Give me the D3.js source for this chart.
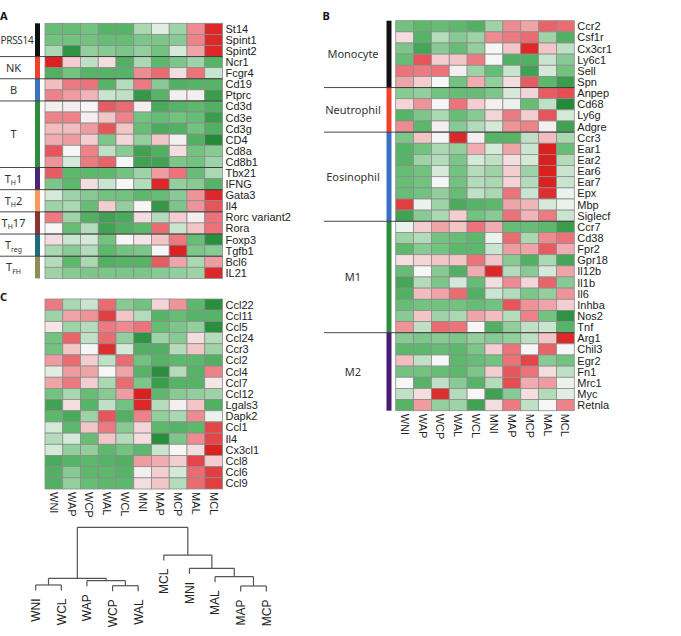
<!DOCTYPE html>
<html>
<head>
<meta charset="utf-8">
<title>Expression heatmaps</title>
<script src="https://d3js.org/d3.v7.min.js"></script>
<style>
  body { margin: 0; background: #fff; }
  .gene { font-family: "Liberation Sans", Arial, sans-serif; font-size: 11px; fill: #222; }
  .col { font-family: "Liberation Sans", Arial, sans-serif; font-size: 11px; fill: #222; }
  .leaf { font-family: "Liberation Sans", Arial, sans-serif; font-size: 12px; fill: #222; }
  .grp { font-family: "Noto Sans", sans-serif; font-size: 11px; fill: #333; text-anchor: middle; }
  .panel { font-family: "Noto Sans", sans-serif; font-size: 11px; font-weight: bold; fill: #111; }
  .cell { stroke: #8c8c8c; stroke-width: 0.8; }
  .sep { stroke: #333; stroke-width: 0.9; }
  .dend { stroke: #555; stroke-width: 1.2; fill: none; }
</style>
</head>
<body>
<svg width="681" height="636"></svg>
<script>
// columns shared by all three heatmaps
var cols = ["WNI", "WAP", "WCP", "WAL", "WCL", "MNI", "MAP", "MCP", "MAL", "MCL"];

// ---- panel A ----
var genesA = ["St14", "Spint1", "Spint2", "Ncr1", "Fcgr4", "Cd19", "Ptprc", "Cd3d", "Cd3e", "Cd3g",
    "CD4", "Cd8a", "Cd8b1", "Tbx21", "IFNG", "Gata3", "Il4", "Rorc variant2", "Rora", "Foxp3",
    "Tgfb1", "Bcl6", "IL21"];
var groupNamesA = ["PRSS14", "NK", "B", "T", "T_H1", "T_H2", "T_H17", "T_reg", "T_FH"];
var groupSizesA = [3, 2, 2, 6, 2, 2, 2, 2, 2];
var valuesA = [
    [-1.3, -1.3, -1.2, -1.5, -1.5, -0.7, -0.2, -0.8, 1.3, 2.6],
    [-1.2, -1.2, -1.2, -1.3, -1.3, -1.1, -1.1, -1.0, 1.4, 2.6],
    [-0.7, -2.2, -0.9, -1.0, -1.1, -0.9, -1.2, -0.3, 1.0, 2.6],
    [2.7, 0.5, -0.5, 0.3, -1.6, -0.7, -1.4, -1.1, -0.8, -1.5],
    [-1.6, -1.2, -1.5, -1.5, -1.5, 1.3, 1.7, 0.3, 1.6, -0.4],
    [0.7, 1.5, 1.6, -1.5, -0.6, 1.5, -1.0, -1.6, -1.5, -1.5],
    [1.4, 1.1, 0.8, -0.4, -0.5, -2.1, -1.5, 0.1, 0.1, -2.0],
    [0.1, 0.1, 0.0, 1.9, 1.7, 0.1, -1.7, -1.5, -1.4, -1.6],
    [1.4, 1.4, 0.1, 0.6, 1.4, -1.2, -1.3, -1.2, -1.3, -2.0],
    [0.7, 0.7, 1.1, 2.0, 0.6, -1.3, -1.7, -1.6, -1.2, -1.6],
    [0.9, 1.1, 0.5, -1.1, 0.4, -0.9, 0.6, 0.1, -1.6, -2.4],
    [2.0, 0.0, 1.4, -0.5, -1.0, -1.9, -1.6, 0.3, -1.2, -1.0],
    [1.2, -0.3, 1.5, 1.8, 0.0, -1.9, -1.9, -1.1, -1.2, -0.8],
    [1.9, -1.4, -1.4, -1.4, -1.2, -0.8, 1.1, 1.6, -1.3, -0.7],
    [-1.1, -1.4, 0.3, -0.4, 0.0, -0.6, 2.6, -0.9, -1.0, -1.5],
    [-0.3, -0.8, -1.0, -1.2, -1.2, -1.4, -1.3, -1.0, 1.2, 2.6],
    [-0.8, -0.7, -1.3, 0.5, -0.9, 0.0, -2.1, -1.1, 1.2, 2.0],
    [1.5, -0.8, -1.6, -1.9, -1.7, 0.3, -0.6, 0.5, 0.1, 1.6],
    [0.0, -1.3, -0.6, -1.9, -1.6, -1.4, 1.7, -0.4, 0.6, 1.6],
    [0.3, -0.4, -0.3, -1.2, 0.0, 0.2, 0.6, 1.5, -1.3, -2.3],
    [-0.7, -1.0, -0.6, -1.4, -1.2, -1.1, 0.0, 2.7, -1.1, -1.0],
    [-0.6, -1.4, -0.7, -1.6, -1.5, -1.5, 1.9, 1.0, -0.7, 1.1],
    [-0.8, -1.0, -1.1, -1.1, -1.1, -1.1, -1.0, -0.9, -0.8, 2.6]
];

// ---- panel B ----
var genesB = ["Ccr2", "Csf1r", "Cx3cr1", "Ly6c1", "Sell", "Spn", "Anpep", "Cd68", "Ly6g", "Adgre",
    "Ccr3", "Ear1", "Ear2", "Ear6", "Ear7", "Epx", "Mbp", "Siglecf", "Ccr7", "Cd38", "Fpr2",
    "Gpr18", "Il12b", "Il1b", "Il6", "Inhba", "Nos2", "Tnf", "Arg1", "Chil3", "Egr2", "Fn1",
    "Mrc1", "Myc", "Retnla"];
var groupNamesB = ["Monocyte", "Neutrophil", "Eosinophil", "M1", "M2"];
var groupSizesB = [6, 4, 8, 10, 7];
var valuesB = [
    [-1.2, -1.4, -1.3, -1.4, -1.6, -0.8, 1.3, 1.0, 1.8, 1.7],
    [0.3, -1.5, -0.6, -1.0, -0.8, 1.3, 1.5, 1.7, -0.8, -1.6],
    [-1.1, -1.8, -1.0, -1.3, -0.9, 0.0, 0.6, 2.6, 0.6, -0.5],
    [-1.3, 2.0, 0.5, 0.6, 1.5, 0.0, -1.6, -1.6, -0.4, -1.0],
    [1.6, 1.5, 1.6, 0.1, -0.8, -1.3, -0.4, -1.9, -0.3, -1.2],
    [1.0, 0.5, 0.0, -1.2, 0.9, -0.9, 0.3, 1.9, -1.4, -2.0],
    [-1.0, -0.9, -1.2, -1.3, -1.3, -1.1, -0.3, 0.4, 1.9, 2.1],
    [0.4, 1.2, 0.0, 1.6, 0.5, 0.1, -0.1, -1.3, -0.5, -2.4],
    [-1.5, -1.1, -0.7, -1.3, -1.0, 0.4, 1.5, 0.5, 2.0, -0.3],
    [1.3, -1.4, 0.1, -1.0, -0.6, -0.3, 1.2, 1.4, 0.1, -1.9],
    [-1.1, 0.6, 0.0, 2.6, 0.1, -1.5, -1.5, -0.5, 0.7, -0.7],
    [-1.5, -1.2, -0.7, -0.9, 0.9, -0.3, 1.0, -0.4, 2.7, -1.3],
    [-1.5, -0.8, -0.6, -1.1, -0.3, -0.5, 0.3, -0.3, 2.7, -0.6],
    [-1.3, -1.2, -0.3, -1.2, -0.6, -0.8, 0.5, -0.8, 2.7, -0.4],
    [-1.3, -1.2, 0.0, -1.2, -0.6, -0.7, 0.4, -0.6, 2.7, -0.4],
    [-1.3, -1.2, -0.9, -1.3, -0.5, -0.7, 1.6, -0.4, 2.5, -0.1],
    [2.3, -0.1, -0.8, -1.7, -1.5, -1.4, 1.0, 0.8, -0.3, -0.1],
    [-1.9, -1.0, -0.7, 0.5, -1.2, -1.0, 1.6, 0.8, 1.5, -0.4],
    [-0.1, 0.5, 1.0, 0.6, 1.6, 0.9, -1.3, -1.3, -1.4, -2.0],
    [-0.8, -0.6, -1.2, -1.3, -1.4, -0.1, 1.7, -0.7, 1.3, 1.6],
    [-1.4, -1.0, -1.2, -1.4, -1.4, -0.4, 1.1, 1.0, 1.9, 0.9],
    [0.3, 0.4, 0.6, 0.6, 1.6, 0.6, -1.0, -1.6, -0.7, -1.8],
    [-1.3, 0.0, -1.0, -1.6, 0.9, 2.6, -0.6, -1.0, -0.3, 1.0],
    [-1.8, -0.6, -1.1, -0.3, -1.3, 0.3, 1.3, 0.4, 1.8, -1.0],
    [-1.6, 0.7, 1.0, 1.7, -1.6, -0.4, -0.6, -1.1, -0.9, 1.2],
    [-1.3, -1.2, -1.2, -1.2, -1.3, -1.2, 2.0, 1.2, 1.0, 0.5],
    [-1.0, 0.6, -0.8, -0.7, 1.0, 0.7, -0.6, 1.4, -1.2, -2.2],
    [1.2, -0.5, 1.7, 1.6, 0.0, -1.6, -0.9, -0.5, -0.4, -1.5],
    [-1.0, -1.1, -1.0, -1.1, -0.9, -1.0, -0.9, -0.5, 0.6, 2.6],
    [-1.4, -1.4, -1.3, -1.4, -1.1, 0.5, 1.6, 0.0, 1.8, 0.0],
    [0.7, -0.5, 0.0, -1.4, -1.3, -1.2, 1.6, 2.2, -1.0, -1.2],
    [-1.2, -1.2, -1.3, -1.4, -1.1, 0.5, 2.0, 1.6, 0.3, -0.5],
    [0.0, -1.5, -0.5, -1.0, -1.5, -0.6, 2.1, 0.9, 1.1, -0.1],
    [-0.5, 0.3, 2.5, -0.6, 0.0, -1.9, -1.0, 0.3, -0.6, -0.2],
    [-1.5, 1.1, -0.9, -0.8, -1.9, 0.3, 1.5, -0.5, 0.0, 1.4]
];

// ---- panel C ----
var genesC = ["Ccl22", "Ccl11", "Ccl5", "Ccl24", "Ccr3", "Ccl2", "Ccl4", "Ccl7", "Ccl12", "Lgals3",
    "Dapk2", "Ccl1", "Il4", "Cx3cl1", "Ccl8", "Ccl6", "Ccl9"];
var valuesC = [
    [1.5, -0.7, -0.4, 1.7, -1.0, -1.2, 0.4, 1.2, -1.4, -2.3],
    [-0.8, 1.0, 1.2, 2.3, 0.6, -0.6, -1.5, -1.3, -1.5, -1.5],
    [0.2, -0.8, -0.6, 1.5, 1.3, 1.6, -1.3, -1.1, -0.9, -2.3],
    [-1.2, 1.8, -0.5, 1.7, -0.9, -2.2, -0.8, -1.0, 0.3, -0.6],
    [-1.2, 0.6, 0.0, 2.5, -0.3, -1.6, -1.6, -0.6, 0.6, -0.8],
    [1.1, 1.7, 0.5, -0.5, 1.7, -1.2, -1.5, -1.4, -1.4, -1.6],
    [-0.2, 1.1, 1.0, 0.0, 1.0, -1.5, -2.3, -0.6, -1.5, 1.4],
    [1.0, 1.5, 0.5, -0.7, 1.7, -1.1, -2.0, -1.5, -1.5, 0.2],
    [-1.2, -0.7, -1.3, -1.0, 1.1, 2.7, -1.4, -1.0, -0.9, -0.8],
    [-1.9, 0.3, -1.5, -0.5, -1.2, 2.6, -0.6, 0.1, 0.6, -1.6],
    [-1.4, -1.7, -0.8, 2.0, -1.6, 1.4, -0.9, -0.7, 1.3, -0.1],
    [-0.3, -1.4, 0.6, 1.5, -1.0, 0.4, -1.4, -1.5, -1.4, 2.2],
    [-0.6, -0.3, -1.3, 0.6, -0.6, 0.3, -2.3, -1.1, 1.3, 2.2],
    [-0.3, -0.9, -0.9, -1.4, -1.2, -1.4, -0.4, 0.0, 0.3, 2.8],
    [-1.7, -1.5, -1.4, -1.5, -1.6, 1.1, 0.9, 0.5, 2.2, 0.5],
    [-1.6, -1.0, -1.4, -1.4, -1.5, 0.1, 0.5, -0.3, 1.7, 2.3],
    [-1.6, -0.9, -1.3, -1.4, -1.4, 0.3, 0.6, -0.6, 1.7, 2.3]
];

// ---- dendrogram for C (heights in arbitrary distance units) ----
var leafOrder = ["WNI", "WCL", "WAP", "WCP", "WAL", "MCL", "MNI", "MAL", "MAP", "MCP"];
var dendroTree = { h: 7.0, children: [
    { h: 1.48, children: [
        { h: 0.76, children: [{ name: "WNI" }, { name: "WCL" }] },
        { h: 1.22, children: [{ name: "WAP" }, { h: 0.68, children: [{ name: "WCP" }, { name: "WAL" }] }] }
    ] },
    { h: 4.0, children: [
        { name: "MCL" },
        { h: 2.56, children: [
            { name: "MNI" },
            { h: 1.66, children: [{ name: "MAL" }, { h: 0.65, children: [{ name: "MAP" }, { name: "MCP" }] }] }
        ] }
    ] }
] };

// styles
var groupColorsA = ["#111111", "#f0412b", "#3b6fc2", "#2f8c3f", "#4a247f", "#f79a5c", "#8c3434", "#1e6a7e", "#8e8d5b"];
var groupColorsB = ["#111111", "#f0412b", "#3b6fc2", "#2f8c3f", "#4a1a75"];

var color = d3.scaleLinear()
    .domain([-2.4, -1.4, 0, 1.5, 2.7])
    .range(["#238a37", "#5cb96c", "#f6f6f6", "#ec7b81", "#db2020"])
    .clamp(true);

var svg = d3.select("svg");

function heatmap(genes, values, xr, yr, showCols) {
    var x = d3.scaleBand().domain(cols).range(xr);
    var y = d3.scaleBand().domain(genes).range(yr);
    var g = svg.append("g");

    var cells = [];
    values.forEach(function (row, i) {
        row.forEach(function (v, j) { cells.push({ gene: genes[i], col: cols[j], v: v }); });
    });

    g.selectAll("rect.cell")
        .data(cells)
        .enter().append("rect")
        .attr("class", "cell")
        .attr("x", d => x(d.col))
        .attr("y", d => y(d.gene))
        .attr("width", x.bandwidth())
        .attr("height", y.bandwidth())
        .attr("fill", d => color(d.v));

    g.selectAll("text.gene")
        .data(genes)
        .enter().append("text")
        .attr("class", "gene")
        .attr("x", xr[1] + 3)
        .attr("y", d => y(d) + y.bandwidth() / 2)
        .attr("dy", "0.36em")
        .text(d => d);

    if (showCols) {
        g.selectAll("text.col")
            .data(cols)
            .enter().append("text")
            .attr("class", "col")
            .attr("transform", d => "translate(" + (x(d) + x.bandwidth() / 2) + "," + (yr[1] + 3) + ") rotate(90)")
            .attr("dy", "0.36em")
            .text(d => d);
    }
    return { x: x, y: y };
}

// group bars, labels and separator lines
function groups(sc, genes, names, sizes, colors, barX, labelX, lineX0) {
    var start = 0;
    var xr = sc.x.range();
    names.forEach(function (name, k) {
        var top = sc.y(genes[start]);
        var bottom = sc.y(genes[start + sizes[k] - 1]) + sc.y.bandwidth();
        svg.append("rect")
            .attr("x", barX).attr("y", top)
            .attr("width", 5).attr("height", bottom - top)
            .attr("fill", colors[k]);

        var t = svg.append("text")
            .attr("class", "grp")
            .attr("x", labelX)
            .attr("y", (top + bottom) / 2)
            .attr("dy", "0.36em");
        var m = name.match(/^(\w)_([A-Za-z]+)(\d*)$/);
        if (m) {
            t.append("tspan").text(m[1]);
            t.append("tspan").attr("font-size", "7px").attr("dy", "2.5").text(m[2]);
            if (m[3]) t.append("tspan").attr("dy", "-2.5").text(m[3]);
        } else {
            t.text(name);
        }
        // long label would run off the left edge: pin it to the edge instead
        var w = t.node().getComputedTextLength();
        if (labelX - w / 2 < 0) {
            t.attr("x", 0.5)
                .style("text-anchor", "start")
                .style("font-size", "10px")
                .style("letter-spacing", "-0.3px");
        }

        if (k > 0) {
            svg.append("line")
                .attr("class", "sep")
                .attr("x1", lineX0).attr("x2", xr[1])
                .attr("y1", top).attr("y2", top);
        }
        start += sizes[k];
    });
}

var scA = heatmap(genesA, valuesA, [45, 222.5], [23.3, 278.4], false);
groups(scA, genesA, groupNamesA, groupSizesA, groupColorsA, 35, 13.5, 0);

var scB = heatmap(genesB, valuesB, [395.7, 574.3], [20.7, 410.7], true);
groups(scB, genesB, groupNamesB, groupSizesB, groupColorsB, 386.5, 353, 324);

heatmap(genesC, valuesC, [45, 222.5], [299, 489], true);

// panel letters
svg.append("text").attr("class", "panel").attr("x", 0).attr("y", 20).text("A");
svg.append("text").attr("class", "panel").attr("x", 322.5).attr("y", 20).text("B");
svg.append("text").attr("class", "panel").attr("x", 0).attr("y", 301).text("C");

// dendrogram
var root = d3.hierarchy(dendroTree);
var xLeaf = d3.scalePoint().domain(leafOrder).range([35.7, 266.3]);
var yH = d3.scaleLinear().domain([0, 7]).range([592, 527.3]);
var hang = 0.6;

root.eachAfter(function (n) {
    if (n.children) {
        n.px = d3.mean(n.children, c => c.px);
    } else {
        n.px = xLeaf(n.data.name);
    }
});

var dg = svg.append("g");
root.each(function (n) {
    if (!n.children) return;
    var yp = yH(n.data.h);
    var xs = n.children.map(c => c.px);
    dg.append("line").attr("class", "dend")
        .attr("x1", d3.min(xs)).attr("x2", d3.max(xs))
        .attr("y1", yp).attr("y2", yp);
    n.children.forEach(function (c) {
        var yc = c.children ? yH(c.data.h) : yH(n.data.h - hang);
        dg.append("line").attr("class", "dend")
            .attr("x1", c.px).attr("x2", c.px)
            .attr("y1", yp).attr("y2", yc);
        if (!c.children) {
            dg.append("text").attr("class", "leaf")
                .attr("text-anchor", "end")
                .attr("transform", "translate(" + c.px + "," + (yc + 8) + ") rotate(-90)")
                .attr("dy", "0.36em")
                .text(c.data.name);
        }
    });
});
</script>
</body>
</html>
